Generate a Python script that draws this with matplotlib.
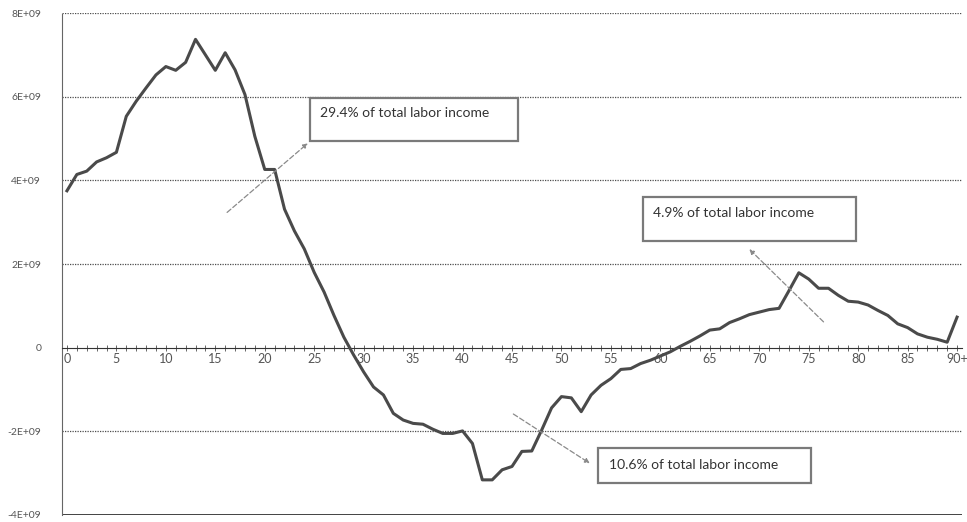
import matplotlib
matplotlib.use("Agg")
import matplotlib.pyplot as plt
from matplotlib.patches import Rectangle

# Age groups (0 .. 90+) and net value per age (in units of 1E+09)
ages = list(range(91))
age_labels = [str(a) if a < 90 else "90+" for a in range(0, 91, 5)]
net_values_e9 = [
    3.75, 4.14, 4.22, 4.44, 4.54, 4.67, 5.53, 5.89, 6.21, 6.52,
    6.72, 6.63, 6.82, 7.37, 7.00, 6.63, 7.05, 6.64, 6.05, 5.05,
    4.26, 4.26, 3.31, 2.79, 2.36, 1.80, 1.33, 0.77, 0.25, -0.18,
    -0.58, -0.94, -1.13, -1.57, -1.73, -1.81, -1.83, -1.95, -2.05, -2.05,
    -1.99, -2.29, -3.16, -3.16, -2.92, -2.84, -2.48, -2.47, -1.97, -1.44,
    -1.17, -1.20, -1.53, -1.13, -0.90, -0.74, -0.52, -0.50, -0.38, -0.30,
    -0.20, -0.10, 0.03, 0.15, 0.28, 0.42, 0.45, 0.60, 0.69, 0.79,
    0.85, 0.91, 0.94, 1.36, 1.79, 1.64, 1.42, 1.42, 1.25, 1.11,
    1.09, 1.02, 0.89, 0.77, 0.57, 0.48, 0.33, 0.25, 0.20, 0.13,
    0.73,
]
y_ticks = [-4e9, -2e9, 0, 2e9, 4e9, 6e9, 8e9]
y_tick_labels = ["-4E+09", "-2E+09", "0", "2E+09", "4E+09", "6E+09", "8E+09"]
notes = ["29.4% of total labor income", "4.9% of total labor income",
         "10.6% of total labor income"]

net_values = [v * 1e9 for v in net_values_e9]

plt.rcParams["font.family"] = ["Lato", "DejaVu Sans"]

fig = plt.figure(figsize=(9.67, 5.22), dpi=100)
ax = fig.add_axes([62 / 967, 7 / 522, 900 / 967, 502 / 522])
ax.set_xlim(-0.5, 90.5)
ax.set_ylim(-4e9, 8e9)

# horizontal gridlines
for yv in y_ticks[1:]:
    if yv == 0:
        continue
    ax.axhline(yv, color="#4d4d4d", lw=0.9, ls=(0, (1, 1)), zorder=1)
ax.axhline(-4e9, color="#222222", lw=1.2, zorder=1)

ax.plot(ages, net_values, color="#4a4a4a", lw=2.2, solid_joinstyle="round", zorder=3)

# axes styling
ax.spines["top"].set_visible(False)
ax.spines["right"].set_visible(False)
ax.spines["left"].set_color("#666666")
ax.spines["left"].set_linestyle((0, (1, 1)))
ax.spines["bottom"].set_position(("data", 0))
ax.spines["bottom"].set_color("#333333")
ax.spines["bottom"].set_linestyle((0, (2, 1)))

ax.set_yticks(y_ticks)
ax.set_yticklabels(y_tick_labels)
ax.tick_params(axis="y", length=0, pad=15, labelsize=7.5, labelcolor="#555555")

ax.set_xticks(list(range(0, 91, 5)))
ax.set_xticklabels(age_labels)
ax.set_xticks(ages, minor=True)
ax.tick_params(axis="x", which="both", direction="inout", length=4, width=0.7,
               color="#666666", pad=2, labelsize=9, labelcolor="#555555")

# annotation boxes with their arrows
boxes = [
    # (x0, x1, y0, y1) in data units
    (24.6, 45.6, 4.93e9, 5.98e9),
    (58.2, 79.8, 2.55e9, 3.60e9),
    (53.7, 75.2, -3.24e9, -2.40e9),
]
text_pos = [(25.6, 5.62e9), (59.3, 3.22e9), (54.8, -2.80e9)]
arrows = [
    ((15.98, 3.19e9), (24.57, 4.93e9)),
    ((76.7, 0.57e9), (68.8, 2.40e9)),
    ((44.9, -1.55e9), (53.1, -2.80e9)),
]
for (x0, x1, y0, y1), (tx, ty), note in zip(boxes, text_pos, notes):
    ax.add_patch(Rectangle((x0, y0), x1 - x0, y1 - y0, facecolor="white",
                           edgecolor="#7a7a7a", lw=1.6, zorder=4))
    ax.text(tx, ty, note, fontsize=10, color="#333333", va="center",
            ha="left", zorder=5)
for start, end in arrows:
    ax.annotate("", xy=end, xytext=start,
                arrowprops=dict(arrowstyle="-|>", color="#8a8a8a", lw=0.9,
                                ls=(0, (4, 2)), mutation_scale=7),
                zorder=4)

fig.savefig("out.png", dpi=100, facecolor="white")
